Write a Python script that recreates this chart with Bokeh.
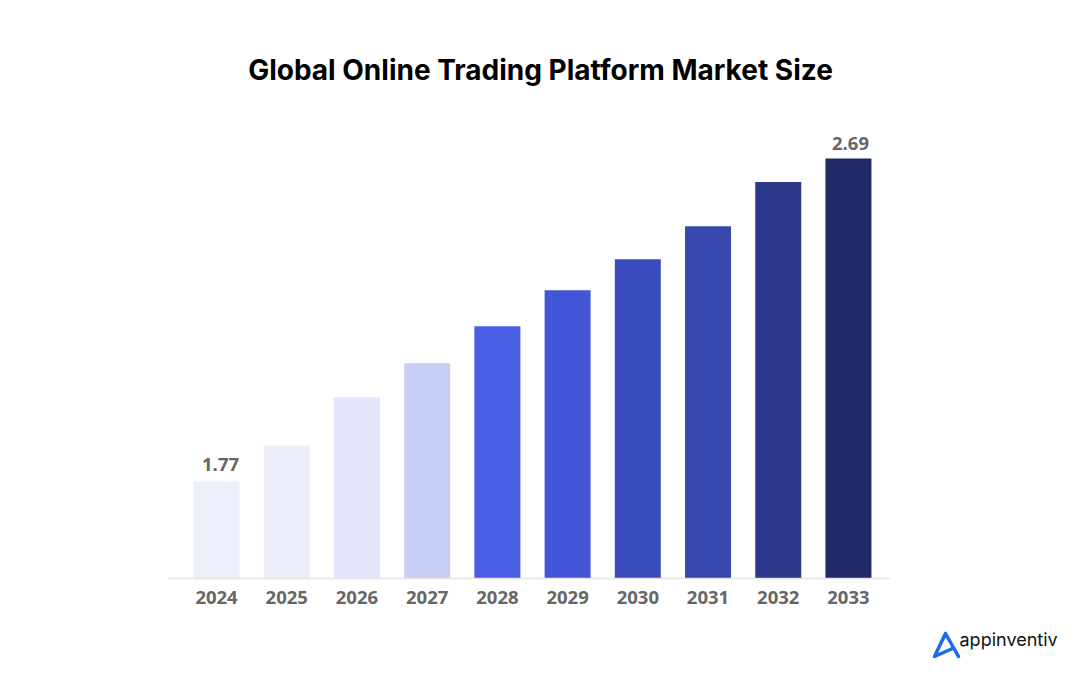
from bokeh.core.properties import value
from bokeh.embed import file_html
from bokeh.resources import INLINE
from bokeh.plotting import figure
from bokeh.models import ColumnDataSource, Range1d, FixedTicker, Label, PolyAnnotation

TITLE = "Global Online Trading Platform Market Size"
BRAND = "appinventiv"
years = [2024, 2025, 2026, 2027, 2028, 2029, 2030, 2031, 2032, 2033]
values = [1.77, 1.873, 2.01, 2.107, 2.212, 2.315, 2.403, 2.497, 2.623, 2.69]
bar_colors = ["#EDEFFB", "#ECEEFB", "#E3E5FA", "#C8CDF5", "#4A5DE5",
              "#4356D8", "#3A4CBC", "#3848AE", "#2C3889", "#202A66"]
shown_labels = {2024: "1.77", 2033: "2.69"}
AXIS_BASE = 1.494

p = figure(width=1072, height=674, output_backend="svg", toolbar_location=None,
           x_range=Range1d(2020.923, 2036.191), y_range=Range1d(1.2207, 3.1397),
           min_border=0, background_fill_color="white", border_fill_color="white")
p.outline_line_color = None
p.grid.visible = False
p.yaxis.visible = False
ax = p.xaxis[0]
ax.fixed_location = AXIS_BASE
ax.bounds = (2023.316, 2033.585)
ax.ticker = FixedTicker(ticks=years)
ax.major_label_overrides = {y: str(y) for y in years}
ax.major_tick_line_color = None
ax.minor_tick_line_color = None
ax.axis_line_color = "#E4E4E4"
ax.axis_line_width = 1.5
ax.major_label_text_font = "Open Sans"
ax.major_label_text_font_style = "bold"
ax.major_label_text_font_size = "18.5px"
ax.major_label_text_color = "#666666"
ax.major_label_standoff = 6

src = ColumnDataSource(dict(x=years, top=values, color=bar_colors))
p.vbar(x="x", top="top", bottom=AXIS_BASE, width=0.655, color="color", line_color=None, source=src)

for yr, xo, yo in ((2024, 4, -11), (2033, 2, -8)):
    i = years.index(yr)
    p.text(x=[yr], y=[values[i]], text=[shown_labels[yr]], x_offset=xo, y_offset=yo,
           text_align="center", text_baseline="bottom", text_font=value("Open Sans"),
           text_font_style="bold", text_font_size="18.5px", text_color="#666666")

p.add_layout(Label(x=540, y=605, x_units="screen", y_units="screen", text=TITLE,
                   text_align="center", text_baseline="middle", text_font="Inter",
                   text_font_style="bold", text_font_size="28px", text_color="#000000"))
p.add_layout(Label(x=959, y=35, x_units="screen", y_units="screen", text=BRAND,
                   text_align="left", text_baseline="middle", text_font="Inter",
                   text_font_size="18px", text_color="#111111"))

# brand glyph, a decoration outside the plot frame
lx = [945, 934, 945, 958, 945, 934, 952, 934]
ly = [633, 656, 633, 656, 633, 656, 648, 656]
p.add_layout(PolyAnnotation(xs=lx, ys=ly, xs_units="canvas", ys_units="canvas",
                            fill_alpha=0, line_color="#1A6BF0", line_width=3.5,
                            line_join="round", line_alpha=1))

open("out.html", "w").write(file_html(p, INLINE))
